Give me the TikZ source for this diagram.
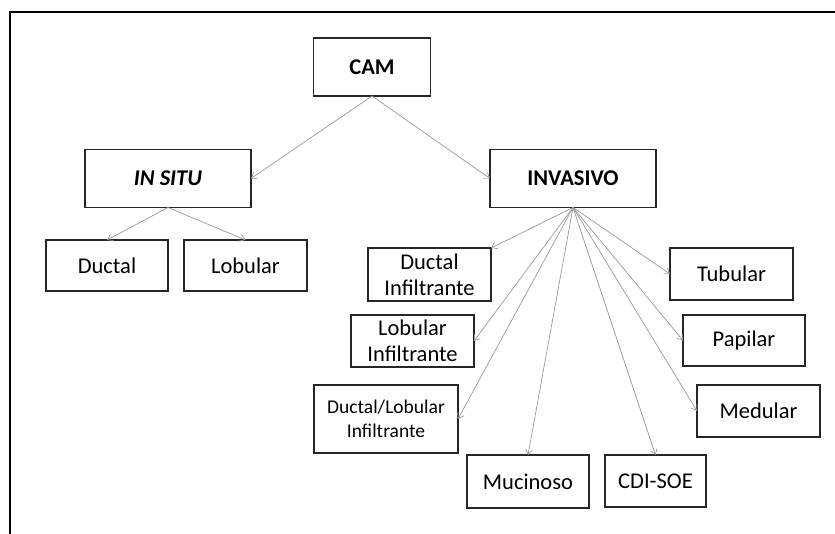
\documentclass[tikz,border=0pt]{standalone}
\usepackage{fontspec}
\setmainfont{Carlito}
\usepackage{tkz-graph}
\usetikzlibrary{arrows.meta}

\begin{document}
\begin{tikzpicture}[x=1pt,y=-1pt,font=\fontsize{22.5}{26}\selectfont]
		\GraphInit[vstyle=Normal]
		\tikzset{VertexStyle/.style={rectangle,draw=black!85,line width=1.6pt,inner sep=0pt,align=center},
			EdgeStyle/.style={draw=black!40,line width=0.7pt,
				-{Straight Barb[length=5pt,width=7pt]}},
			Box/.style={minimum width=122pt,minimum height=52pt},
			Small/.style={font=\fontsize{19.5}{24}\selectfont},
			Head/.style={minimum width=166pt,minimum height=58pt,font=\fontsize{22.5}{26}\selectfont\bfseries}}
		\useasboundingbox (0,0) rectangle (835,534);
		\draw[line width=1.5pt] (10,534) -- (10,12) -- (835,12);
		
		\Vertex[x=372,y=67,L=CAM,style={Head,minimum width=117pt}]{cam}
		\Vertex[x=168,y=178.5,L={\itshape IN SITU},style={Head}]{insitu}
		\Vertex[x=573,y=178.5,L=INVASIVO,style={Head}]{invasivo}
		\Vertex[x=107,y=265.5,L=Ductal,style={Box,minimum height=51pt}]{ductal}
		\Vertex[x=245.5,y=265.5,L=Lobular,style={Box,minimum width=123pt,minimum height=51pt}]{lobular}
		\Vertex[x=429.5,y=274.5,L={Ductal\\Infiltrante},style={Box,minimum width=123pt,minimum height=53pt}]{ductinf}
		\Vertex[x=412.5,y=341,L={Lobular\\Infiltrante},style={Box,minimum width=123pt}]{lobinf}
		\Vertex[x=386,y=419,L={Ductal/Lobular\\Infiltrante},style={Box,Small,minimum width=144pt,minimum height=68pt}]{duclob}
		\Vertex[x=528,y=481.5,L=Mucinoso,style={Box,minimum height=53pt}]{mucinoso}
		\Vertex[x=655.5,y=481,L=CDI-SOE,style={Box,minimum width=101pt}]{cdisoe}
		\Vertex[x=731.5,y=274,L=Tubular,style={Box,minimum width=123pt}]{tubular}
		\Vertex[x=744,y=340.5,L=Papilar,style={Box,minimum height=51pt}]{papilar}
		\Vertex[x=758.5,y=411,L=Medular,style={Box,minimum width=123pt}]{medular}
		
		\draw[EdgeStyle] (cam.south) -- (insitu.east);
		\draw[EdgeStyle] (cam.south) -- (invasivo.west);
		\draw[EdgeStyle] (insitu.south) -- (ductal.north);
		\draw[EdgeStyle] (insitu.south) -- (lobular.north);
		\draw[EdgeStyle] (invasivo.south) -- (ductinf.north east);
		\draw[EdgeStyle] (invasivo.south) -- (lobinf.east);
		\draw[EdgeStyle] (invasivo.south) -- (duclob.east);
		\draw[EdgeStyle] (invasivo.south) -- (mucinoso.north);
		\draw[EdgeStyle] (invasivo.south) -- (cdisoe.north);
		\draw[EdgeStyle] (invasivo.south) -- (medular.west);
		\draw[EdgeStyle] (invasivo.south) -- (papilar.west);
		\draw[EdgeStyle] (invasivo.south) -- (tubular.west);
		\end{tikzpicture}
\end{document}
